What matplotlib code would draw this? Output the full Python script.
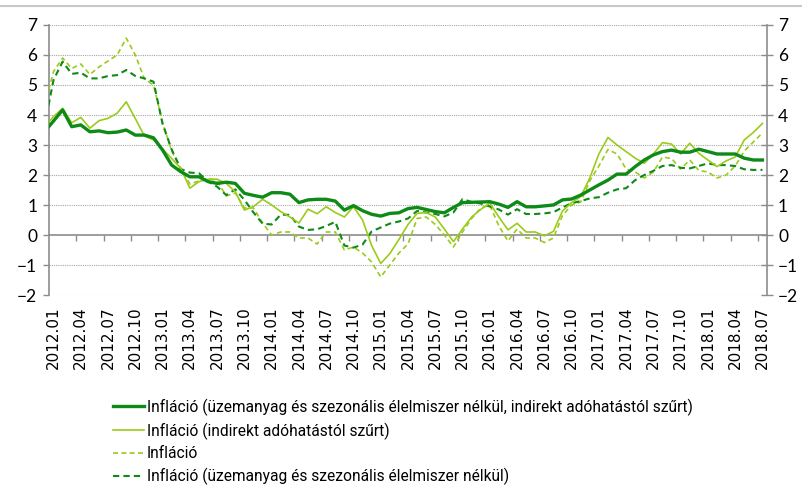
import matplotlib
matplotlib.use("Agg")
import matplotlib.pyplot as plt
from matplotlib.lines import Line2D
import numpy as np

# months 2011.12 .. 2018.07 (2011.12 lies just outside the visible range)
months = ["2011.12"] + [f"{y}.{m:02d}" for y in range(2012, 2019) for m in range(1, 13)]
months = months[:months.index("2018.07") + 1]

core_tax_filtered = [3.44,
    3.8, 4.17, 3.61, 3.67, 3.44, 3.47, 3.41, 3.43, 3.5, 3.33, 3.33, 3.24,
    2.83, 2.33, 2.11, 1.94, 1.94, 1.78, 1.72, 1.76, 1.72, 1.39, 1.32, 1.26,
    1.41, 1.41, 1.36, 1.08, 1.17, 1.19, 1.19, 1.13, 0.83, 0.98, 0.81, 0.69,
    0.63, 0.72, 0.74, 0.88, 0.92, 0.85, 0.78, 0.74, 0.92, 1.08, 1.09, 1.1,
    1.11, 1.03, 0.92, 1.11, 0.94, 0.94, 0.97, 1.0, 1.17, 1.2, 1.33, 1.5,
    1.67, 1.83, 2.03, 2.03, 2.28, 2.5, 2.67, 2.78, 2.83, 2.76, 2.76, 2.86,
    2.78, 2.7, 2.7, 2.7, 2.56, 2.5, 2.5]
headline_tax_filtered = [3.6,
    3.95, 4.22, 3.74, 3.92, 3.56, 3.81, 3.89, 4.06, 4.44, 3.88, 3.3, 3.17,
    2.87, 2.55, 2.22, 1.56, 1.78, 1.86, 1.86, 1.72, 1.44, 0.83, 0.95, 1.19,
    1.0, 0.78, 0.6, 0.4, 0.86, 0.71, 0.94, 0.75, 0.6, 0.94, 0.5, -0.35,
    -0.95, -0.62, -0.15, 0.35, 0.72, 0.75, 0.6, 0.2, -0.22, 0.2, 0.6, 0.85,
    1.06, 0.6, 0.17, 0.39, 0.1, 0.1, -0.03, 0.12, 0.8, 1.08, 1.28, 1.9,
    2.7, 3.25, 3.0, 2.78, 2.56, 2.39, 2.7, 3.08, 3.03, 2.7, 3.06, 2.72,
    2.5, 2.28, 2.47, 2.6, 3.17, 3.42, 3.72]
headline = [4.3,
    5.45, 5.9, 5.55, 5.7, 5.35, 5.6, 5.8, 6.0, 6.56, 6.0, 5.2, 5.0,
    3.75, 2.8, 2.2, 1.7, 1.8, 1.9, 1.8, 1.3, 1.4, 0.9, 0.9, 0.4,
    0.0, 0.1, 0.1, -0.1, -0.1, -0.3, 0.1, 0.1, -0.5, -0.4, -0.6, -0.9,
    -1.4, -1.0, -0.6, -0.3, 0.55, 0.6, 0.35, 0.0, -0.4, 0.1, 0.55, 0.9,
    1.0, 0.3, -0.2, 0.2, -0.1, -0.1, -0.25, -0.1, 0.65, 1.0, 1.1, 1.8,
    2.3, 2.85, 2.7, 2.2, 2.1, 1.9, 2.1, 2.6, 2.55, 2.2, 2.5, 2.15,
    2.1, 1.9, 2.0, 2.3, 2.8, 3.1, 3.4]
core_excl = [3.63,
    5.17, 5.78, 5.37, 5.41, 5.22, 5.22, 5.3, 5.33, 5.5, 5.3, 5.22, 5.11,
    3.7, 2.85, 2.2, 2.08, 2.06, 1.78, 1.61, 1.33, 1.52, 1.17, 0.75, 0.38,
    0.35, 0.68, 0.67, 0.28, 0.17, 0.19, 0.3, 0.44, -0.35, -0.42, -0.32, 0.12,
    0.25, 0.38, 0.45, 0.55, 0.8, 0.75, 0.7, 0.62, 0.75, 1.2, 1.1, 1.05,
    0.95, 0.85, 0.68, 0.86, 0.7, 0.7, 0.72, 0.76, 0.92, 1.06, 1.13, 1.22,
    1.26, 1.41, 1.52, 1.56, 1.83, 2.0, 2.14, 2.3, 2.33, 2.24, 2.22, 2.3,
    2.39, 2.33, 2.33, 2.3, 2.19, 2.17, 2.17]

labels = ["Infláció (üzemanyag és szezonális élelmiszer nélkül, indirekt adóhatástól szűrt)",
          "Infláció (indirekt adóhatástól szűrt)",
          "Infláció",
          "Infláció (üzemanyag és szezonális élelmiszer nélkül)"]

DARK = "#0E8A16"
LIGHT = "#9BCB1A"
GRAY = "#8C8C8C"

x = np.arange(len(months)) - 1  # 2012.01 -> 0
label_idx = [i for i in range(1, len(months)) if (i - 1) % 3 == 0]
label_pos = [x[i] for i in label_idx]
label_txt = [months[i] for i in label_idx]
tick_pos = [3 * k - 0.5 for k in range(1, 27)]

W, H = 803, 486
fig = plt.figure(figsize=(W / 100, H / 100), dpi=100)
ax = fig.add_axes([49 / W, 1 - 295 / H, (767 - 49) / W, (295 - 25) / H])

ax.plot(x, core_tax_filtered, color=DARK, lw=2.4, label=labels[0], zorder=5)
ax.plot(x, headline_tax_filtered, color=LIGHT, lw=1.2, label=labels[1], zorder=4)
ax.plot(x, headline, color=LIGHT, lw=1.2, dashes=(3, 2), label=labels[2], zorder=3)
ax.plot(x, core_excl, color=DARK, lw=1.5, dashes=(3, 2), label=labels[3], zorder=3)

ax.set_xlim(-0.5, 78.5)
ax.set_ylim(-2, 7)
ax.set_yticks(range(-2, 8))
for v in range(-2, 8):
    if v != 0:
        ax.axhline(v, color="#A6A6A6", lw=0.8, ls=(0, (1, 1)), zorder=1)

for s in ["top", "right"]:
    ax.spines[s].set_visible(False)
ax.spines["left"].set_color(GRAY)
ax.spines["left"].set_linewidth(1.2)
ax.spines["bottom"].set_position(("data", 0))
ax.spines["bottom"].set_color(GRAY)
ax.spines["bottom"].set_linewidth(1.2)
ax.set_xticks(tick_pos)
ax.set_xticklabels([])
ax.tick_params(axis="x", direction="out", length=4, width=1, color=GRAY)
ax.tick_params(axis="y", direction="out", length=4.5, width=1, color=GRAY,
               labelsize=12.5, pad=4)
for t in ax.get_yticklabels():
    t.set_family(["Lato", "DejaVu Sans"])

sec = ax.secondary_xaxis("bottom")
sec.spines["bottom"].set_visible(False)
sec.set_xticks(label_pos)
sec.set_xticklabels(label_txt, rotation=90, fontsize=11, family="DejaVu Sans")
sec.tick_params(axis="x", length=0, pad=8)

ax2 = ax.twinx()
ax2.set_ylim(-2, 7)
ax2.set_yticks(range(-2, 8))
for s in ["top", "left", "bottom"]:
    ax2.spines[s].set_visible(False)
ax2.spines["right"].set_color(GRAY)
ax2.spines["right"].set_linewidth(1.2)
ax2.tick_params(axis="y", direction="inout", length=8, width=1, color=GRAY,
                labelsize=12.5, pad=4)
for t in ax2.get_yticklabels():
    t.set_family(["Lato", "DejaVu Sans"])

fig.add_artist(Line2D([0, 1], [1 - 6.5 / H, 1 - 6.5 / H], transform=fig.transFigure,
                      color="#C8C8C8", lw=1.5))

# choose a legend font size so that the longest entry is ~542 px wide
leg_family = ["Roboto", "DejaVu Sans"]
renderer = fig.canvas.get_renderer()
probe = fig.text(0, 0, labels[0], family=leg_family, fontsize=12)
wpx = probe.get_window_extent(renderer).width
probe.remove()
leg_size = 12 * 542 / wpx
fs_px = leg_size * 100 / 72

handles, labs = ax.get_legend_handles_labels()
leg = fig.legend(handles, labs, loc="upper left", bbox_to_anchor=(113 / W, 1 - 398.5 / H),
                 frameon=False, borderpad=0, borderaxespad=0,
                 handlelength=31 / fs_px, handletextpad=0.2,
                 labelspacing=0.43,
                 prop={"family": leg_family, "size": leg_size})

fig.savefig("out.png", dpi=100)
